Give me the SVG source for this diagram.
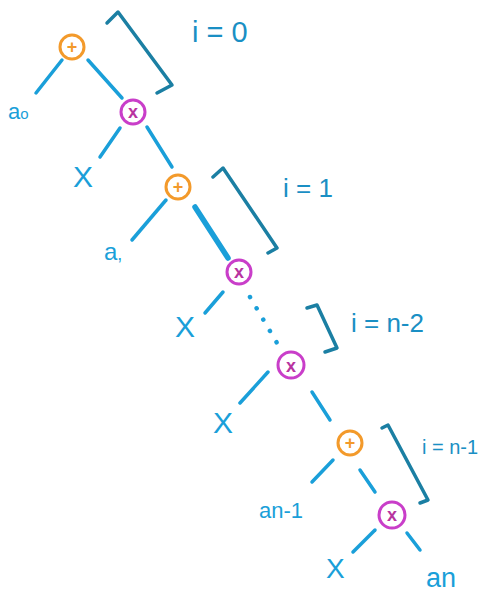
<svg xmlns="http://www.w3.org/2000/svg" width="493" height="592" viewBox="0 0 493 592">
<style>
.e{stroke:#1a9fd9;stroke-width:3.5;stroke-linecap:round;fill:none}
.thick{stroke-width:5.5}
.dot{stroke-dasharray:0.1 13;stroke-width:4.5}
.br{stroke:#1b7fa3;stroke-width:3.5;fill:none;stroke-linecap:round;stroke-linejoin:round}
.p circle{fill:#fff;stroke:#f39a2b;stroke-width:3}
.p text{fill:#f39a2b}
.m circle{fill:#fff;stroke:#c93ec9;stroke-width:3}
.m text{fill:#b8349f}
.sym{font-family:"Liberation Sans",sans-serif;font-size:18px;text-anchor:middle;font-weight:bold}
.lb{font-family:"Liberation Sans",sans-serif;fill:#1a9fd9}
.il{font-family:"Liberation Sans",sans-serif;fill:#1a8fc4}
</style>
<rect width="493" height="592" fill="#fff"/>
<g id="connectors">
<line class="e" x1="62" y1="60" x2="36" y2="93"/>
<line class="e" x1="88" y1="60" x2="122" y2="98"/>
<line class="e" x1="120" y1="128" x2="100" y2="157"/>
<line class="e" x1="147" y1="127" x2="172" y2="167"/>
<line class="e" x1="166" y1="200" x2="132" y2="240"/>
<line class="e thick" x1="195" y1="207" x2="228" y2="258"/>
<line class="e" x1="223" y1="292" x2="205" y2="313"/>
<line class="e dot" x1="250" y1="297" x2="277" y2="343"/>
<line class="e" x1="268" y1="372" x2="240" y2="403"/>
<line class="e" x1="312" y1="392" x2="330" y2="420"/>
<line class="e" x1="333" y1="460" x2="312" y2="482"/>
<line class="e" x1="360" y1="470" x2="375" y2="492"/>
<line class="e" x1="375" y1="530" x2="353" y2="552"/>
<line class="e" x1="407" y1="533" x2="420" y2="550"/>
</g>
<g id="brackets">
<polyline class="br" points="107,23 118,12 172,85 157,93"/>
<polyline class="br" points="213,177 223,168 277,248 268,253"/>
<polyline class="br" points="307,308 317,305 337,348 325,352"/>
<polyline class="br" points="382,428 388,425 428,500 420,503"/>
</g>
<g id="plus1" class="p"><circle cx="72" cy="47" r="12"/><text class="sym" x="72" y="53">+</text></g>
<g id="times1" class="m"><circle cx="133" cy="112" r="12"/><text class="sym" x="133" y="118">x</text></g>
<g id="plus2" class="p"><circle cx="178" cy="187" r="12"/><text class="sym" x="178" y="193">+</text></g>
<g id="times2" class="m"><circle cx="239" cy="272" r="12"/><text class="sym" x="239" y="278">x</text></g>
<g id="times3" class="m"><circle cx="291" cy="365" r="13"/><text class="sym" x="291" y="372">x</text></g>
<g id="plus3" class="p"><circle cx="350" cy="443" r="12"/><text class="sym" x="350" y="449">+</text></g>
<g id="times4" class="m"><circle cx="392" cy="515" r="13"/><text class="sym" x="392" y="521">x</text></g>
<g id="labels">
<text class="lb" x="8" y="119" font-size="22">a<tspan font-size="15">o</tspan></text>
<text class="lb" x="73" y="187" font-size="30">X</text>
<text class="lb" x="104" y="260" font-size="24">a<tspan font-size="18">,</tspan></text>
<text class="lb" x="175" y="337" font-size="30">X</text>
<text class="lb" x="213" y="433" font-size="30">X</text>
<text class="lb" x="259" y="518" font-size="22">an-1</text>
<text class="lb" x="326" y="578" font-size="28">X</text>
<text class="lb" x="426" y="587" font-size="27">an</text>
<text class="il" x="192" y="42" font-size="29">i = 0</text>
<text class="il" x="283" y="197" font-size="26">i = 1</text>
<text class="il" x="351" y="332" font-size="26">i = n-2</text>
<text class="il" x="422" y="454" font-size="20">i = n-1</text>
</g>
</svg>
